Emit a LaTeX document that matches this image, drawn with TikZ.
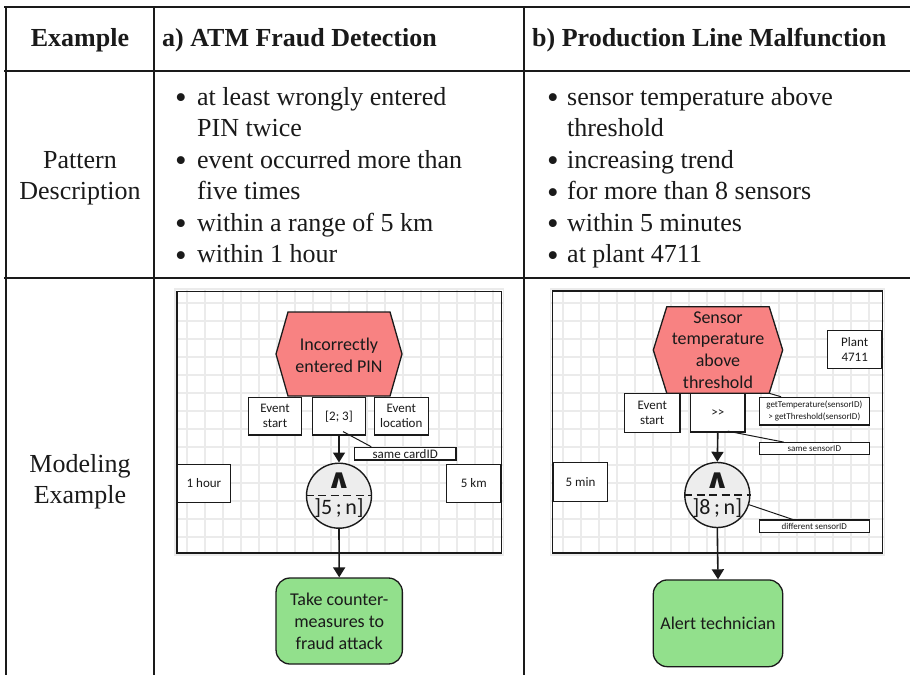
\documentclass[tikz,border=0pt]{standalone}
\usepackage{fontspec}
\setmainfont{Liberation Serif}
\newfontfamily\diagfont{Carlito}
\newfontfamily\opsymfont{DejaVu Sans}
\usetikzlibrary{arrows.meta,calc}
\definecolor{evred}{HTML}{F88282}
\definecolor{actgreen}{HTML}{92E08C}
\definecolor{opgrey}{HTML}{EDEDED}
\definecolor{gridgrey}{HTML}{EBEBEB}
\definecolor{ink}{HTML}{1A1A1A}
\begin{document}
\begin{tikzpicture}[x=1pt,y=-1pt,
  rule/.style={line width=2pt, draw=ink},
  headtext/.style={font=\bfseries\fontsize{26}{31.5}\selectfont, inner sep=0pt, text=ink},
  bodytext/.style={font=\fontsize{26}{31.5}\selectfont, inner sep=0pt, text=ink},
  bulletmark/.style={font=\fontsize{33}{33}\selectfont, inner sep=0pt, text=ink},
  gridline/.style={draw=gridgrey, line width=2pt},
  frame/.style={draw=ink, line width=1.4pt},
  eventshape/.style={draw=ink, line width=1.3pt, fill=evred},
  eventtext/.style={font=\diagfont\fontsize{18}{21.7}\selectfont, align=center, inner sep=0pt, text=ink},
  box/.style={draw=ink, line width=1.2pt, fill=white, align=center, inner sep=0pt, text=ink, font=\diagfont\fontsize{13}{15}\selectfont},
  tinybox/.style={box, font=\diagfont\fontsize{9}{11.5}\selectfont},
  opnode/.style={circle, draw=ink, line width=1.4pt, fill=opgrey, minimum size=65pt, inner sep=0pt},
  opdash/.style={draw=ink, line width=1.2pt, dash pattern=on 8pt off 4.5pt},
  opsym/.style={font=\opsymfont\bfseries\fontsize{27}{27}\selectfont, inner sep=0pt, text=ink, xscale=1.15},
  opcount/.style={font=\diagfont\fontsize{22}{22}\selectfont, inner sep=0pt, text=ink},
  action/.style={draw=ink, line width=1.3pt, fill=actgreen, rounded corners=14pt, align=center, inner sep=0pt, text=ink, font=\diagfont\fontsize{18}{22}\selectfont},
  flow/.style={draw=ink, line width=1.6pt, -{Triangle[width=12pt,length=10pt]}},
  link/.style={draw=ink, line width=1pt},
]
\useasboundingbox (0,0) rectangle (910,675);

% ---------- table rules ----------
\draw[rule] (4,7) -- (910,7);
\draw[rule] (4,71) -- (910,71);
\draw[rule] (4,278) -- (910,278);
\draw[rule] (6,7) -- (6,675);
\draw[rule] (154,7) -- (154,675);
\draw[rule] (524,7) -- (524,675);

% ---------- header row ----------
\node[headtext, anchor=base] (hEx) at (80,46) {Example};
\node[headtext, anchor=base west] (hA) at (162,46) {a) ATM Fraud Detection};
\node[headtext, anchor=base west] (hB) at (532,46) {b) Production Line Malfunction};

% ---------- row titles ----------
\node[bodytext, anchor=base] (pd1) at (80,168) {Pattern};
\node[bodytext, anchor=base] (pd2) at (80,199.5) {Description};
\node[bodytext, anchor=base] (me1) at (80,472) {Modeling};
\node[bodytext, anchor=base] (me2) at (80,503.5) {Example};

% ---------- pattern descriptions ----------
\foreach \txt/\bul [count=\i] in {at least wrongly entered/1, PIN twice/0,
    event occurred more than/1, five times/0, within a range of 5 km/1, within 1 hour/1} {
  \node[bodytext, anchor=base west] (la\i) at (197,{105+31.5*(\i-1)}) {\txt};
  \ifnum\bul=1 \node[bulletmark] (lb\i) at (181,{101.5+31.5*(\i-1)}) {\textbullet}; \fi
}
\foreach \txt/\bul [count=\i] in {sensor temperature above/1, threshold/0,
    increasing trend/1, for more than 8 sensors/1, within 5 minutes/1, at plant 4711/1} {
  \node[bodytext, anchor=base west] (ra\i) at (567,{105+31.5*(\i-1)}) {\txt};
  \ifnum\bul=1 \node[bulletmark] (rb\i) at (553,{101.5+31.5*(\i-1)}) {\textbullet}; \fi
}

% ---------- model a: ATM fraud ----------
\begin{scope}
  \clip (175,289) rectangle (503.5,555);
  \foreach \gx in {187,205,...,503} \draw[gridline] (\gx,289) -- (\gx,555);
  \foreach \gy in {303,321,...,555} \draw[gridline] (175,\gy) -- (503.5,\gy);
\end{scope}
\draw[gridline, line width=1.5pt] (175,289) rectangle (503.5,555);
\draw[frame] (177,291.5) rectangle (501.5,553);

\draw[eventshape] (276,354) -- (288,312) -- (390,312) -- (402,354) -- (390,396) -- (288,396) -- cycle;
\node[eventtext] (evA) at (339,355.5) {Incorrectly\\entered PIN};

\node[box, minimum width=53.4pt, minimum height=37.3pt] (startA) at (275,416.3) {Event\\start};
\node[box, minimum width=53.4pt, minimum height=37.3pt] (cntA) at (339,416.3) {[2; 3]};
\node[box, minimum width=54pt, minimum height=37.3pt] (locA) at (401.3,416.3) {Event\\location};
\node[box, minimum width=53.4pt, minimum height=38pt] (hourA) at (204,483.3) {1 hour};
\node[box, minimum width=54.3pt, minimum height=38pt] (kmA) at (473.8,483.3) {5 km};
\node[box, minimum width=101.7pt, minimum height=12.7pt] (cardA) at (405.2,453.7) {same cardID};

\node[opnode] (opA) at (339,495.7) {};
\draw[opdash] (opA.west) -- (opA.east);
\node[opsym] (symA) at (339,481) {∧};
\node[opcount] (numA) at (339,508.5) {]5\,;\,n]};

\node[action, minimum width=126.3pt, minimum height=86pt] (actA) at (339.2,621) {Take counter-\\measures to\\fraud attack};

\draw[flow] (cntA.south) -- (opA.north);
\draw[flow] (opA.south) -- (actA.north);
\draw[link] ($(cntA.south)+(4,-4)$) -- ($(cardA.north west)+(17.5,0)$);

% ---------- model b: production line ----------
\begin{scope}
  \clip (550.3,289) rectangle (884.3,555);
  \foreach \gx in {563,581,...,884} \draw[gridline] (\gx,289) -- (\gx,555);
  \foreach \gy in {303,321,...,555} \draw[gridline] (550.3,\gy) -- (884.3,\gy);
\end{scope}
\draw[gridline, line width=1.5pt] (550.3,289) rectangle (884.3,555);
\draw[frame] (552.3,291) rectangle (882.3,553);

\draw[eventshape] (653.3,350) -- (666.8,306.7) -- (769.2,306.7) -- (782.7,350) -- (769.2,393.3) -- (666.8,393.3) -- cycle;
\coordinate (hexBse) at (769.2,393.3);
\node[eventtext] (evB) at (718,350) {Sensor\\temperature\\above\\threshold};

\node[box, minimum width=54pt, minimum height=37.6pt] (plantB) at (854.7,349.5) {Plant\\4711};
\node[box, minimum width=55.7pt, minimum height=39pt] (startB) at (652.2,412.8) {Event\\start};
\node[box, minimum width=54.3pt, minimum height=38.7pt] (seqB) at (717.8,412.7) {>>};
\node[tinybox, minimum width=110pt, minimum height=27.7pt] (condB) at (814.3,411.2) {getTemperature(sensorID)\\> getThreshold(sensorID)};
\node[tinybox, minimum width=110pt, minimum height=11.6pt] (sameB) at (814.3,448.5) {same sensorID};
\node[tinybox, minimum width=110pt, minimum height=12.3pt] (diffB) at (814.3,526.2) {different sensorID};
\node[box, minimum width=54.4pt, minimum height=39.4pt] (minB) at (580.5,482) {5 min};

\node[opnode] (opB) at (717.3,495) {};
\draw[opdash] (opB.west) -- (opB.east);
\node[opsym] (symB) at (717.3,480.5) {∧};
\node[opcount] (numB) at (717.3,508) {]8\,;\,n]};

\node[action, minimum width=129.4pt, minimum height=86.7pt] (actB) at (718,623.3) {Alert technician};

\draw[flow] (seqB.south) -- (opB.north);
\draw[flow] (opB.south) -- (actB.north);
\draw[link] (hexBse) -- ($(condB.north west)+(22.4,0)$);
\draw[link] ($(seqB.south)+(10,-1.5)$) -- ($(sameB.north west)+(25,0)$);
\draw[link] (opB.-17) -- ($(diffB.north west)+(34,0)$);
\end{tikzpicture}
\end{document}
